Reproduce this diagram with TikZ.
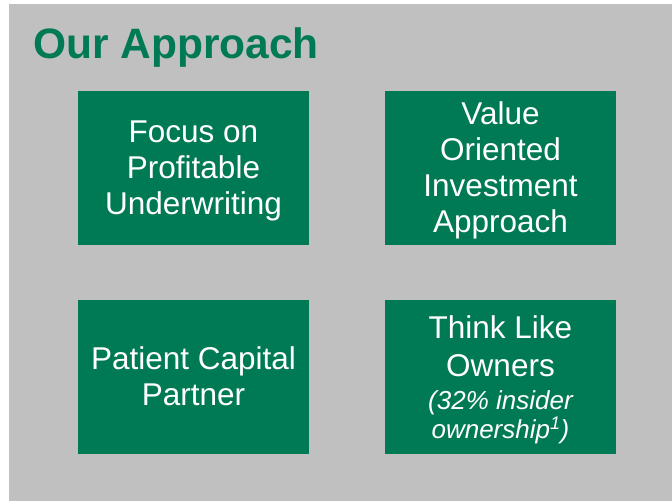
\documentclass[tikz,border=0pt]{standalone}
\usepackage{fontspec}
\setmainfont{Liberation Sans}
\definecolor{apgreen}{RGB}{0,122,85}
\definecolor{apgray}{RGB}{192,192,192}
\newcommand{\topstrut}{\rule{0pt}{0.905em}}
\newcommand{\botstrut}{\rule[-0.212em]{0pt}{0pt}}

\begin{document}
\begin{tikzpicture}[x=1pt,y=1pt,yscale=-1,xscale=1,
    apbox/.style={fill=apgreen, draw=none, minimum width=231pt, minimum height=154pt,
      inner sep=0pt, text=white, text width=225pt, align=flush center,
      font=\fontsize{31.5}{36}\selectfont}]
\useasboundingbox (0,0) rectangle (672,501);
%Background
\fill [white] (0,0) rectangle (672,501);
\fill [apgray] (9,4) rectangle (672,501);
%Title
\node [anchor=base west, inner sep=0pt, text=apgreen, font=\fontsize{42.5}{50}\selectfont\bfseries] (title) at (33,58) {Our Approach};
%Boxes
\node [apbox] (underwriting) at (193.5,168) {\topstrut Focus on\\ Profitable\\ Underwriting\botstrut};
\node [apbox] (value) at (500.5,168) {\topstrut Value\\ Oriented\\ Investment\\ Approach\botstrut};
\node [apbox] (patient) at (193.5,377) {\topstrut Patient Capital\\ Partner\botstrut};
\node [apbox] (owners) at (500.5,377) {{\fontsize{31.5}{38}\selectfont\topstrut Think Like\\ Owners\par}\vspace{4pt}%
  {\itshape\fontsize{26}{29}\selectfont (32\% insider\\ ownership\textsuperscript{1})\botstrut\par}};
\end{tikzpicture}
\end{document}
